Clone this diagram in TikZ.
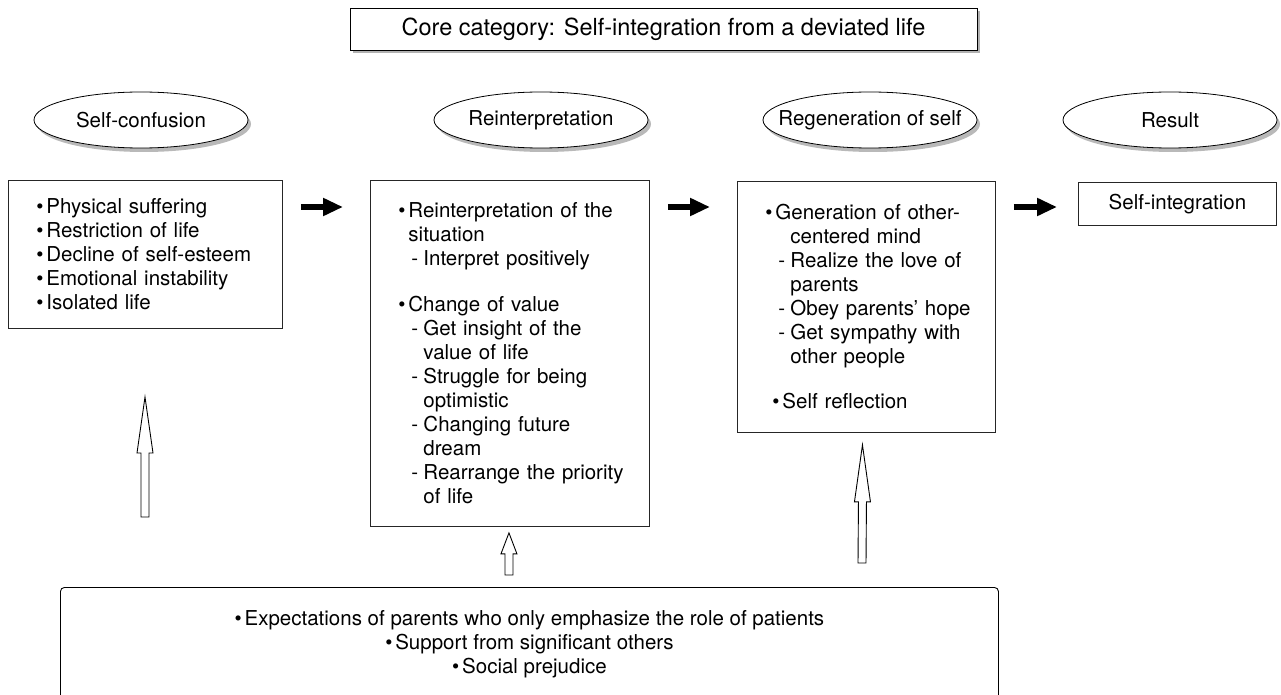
\documentclass[tikz,border=0pt]{standalone}
\usepackage{fontspec}
\setmainfont{TeX Gyre Heros}
\usetikzlibrary{shapes.geometric,arrows.meta,positioning,calc,shadows}

\newcommand{\bitem}[1]{\hspace*{28pt}\makebox[10pt][l]{\textbullet}#1}
\newcommand{\ditem}[1]{\hspace*{41pt}\makebox[12pt][l]{-}#1}
\newcommand{\citem}[1]{\hspace*{53pt}#1}
\newcommand{\hollowup}[3]{%
  \draw[hollow] ($(#1)+(-4,0)$) -- ($(#2)+(-4,#3)$) -- ($(#2)+(-8,#3)$) -- (#2)
    -- ($(#2)+(8,#3)$) -- ($(#2)+(4,#3)$) -- ($(#1)+(4,0)$) -- cycle;}

\begin{document}
\begin{tikzpicture}[x=1pt,y=-1pt]
    \tikzstyle{block} = [rectangle, draw=black!85, line width=0.9pt, anchor=north west,
               align=left, inner xsep=0pt, font=\fontsize{20.5}{24}\selectfont]
    \tikzstyle{phase} = [ellipse, draw, line width=0.8pt, fill=white, inner sep=0pt,
               minimum width=214, minimum height=56, font=\fontsize{20.5}{24}\selectfont,
               drop shadow={shadow xshift=3pt, shadow yshift=-4pt, fill=gray!55, opacity=1}]
    \tikzstyle{flow} = [line width=6pt, -{Triangle[length=20pt,width=17pt]}]
    \tikzstyle{hollow} = [draw, line width=0.9pt, fill=white]

    \useasboundingbox (0,0) rectangle (1281,695);

    % Core category
    \node[draw, line width=0.9pt, fill=white, minimum width=627, minimum height=42,
      font=\fontsize{23.5}{28}\selectfont,
      drop shadow={shadow xshift=3pt, shadow yshift=-3pt, fill=gray!60, opacity=1}]
      (core) at (663.5,29) {Core category: Self-integration from a deviated life};

    % Phases
    \node[phase] (confusionhead) at (141,120) {\makebox[0pt]{Self-confusion}};
    \node[phase] (reinterphead) at (541,120) {\makebox[0pt]{Reinterpretation}};
    \node[phase] (regenhead) at (870,120) {\makebox[0pt]{Regeneration of self}};
    \node[phase] (resulthead) at (1170,120) {\makebox[0pt]{Result}};

    % Contents
    \node[block, text width=274, minimum height=148] (confusion) at (8,180) {
      \bitem{Physical suffering}\\
      \bitem{Restriction of life}\\
      \bitem{Decline of self-esteem}\\
      \bitem{Emotional instability}\\
      \bitem{Isolated life}};

    \node[block, text width=279, minimum height=346] (reinterp) at (370,180) {
      \bitem{Reinterpretation of the}\\
      \hspace*{38pt}situation\\
      \ditem{Interpret positively}\\[22pt]
      \bitem{Change of value}\\
      \ditem{Get insight of the}\\
      \citem{value of life}\\
      \ditem{Struggle for being}\\
      \citem{optimistic}\\
      \ditem{Changing future}\\
      \citem{dream}\\
      \ditem{Rearrange the priority}\\
      \citem{of life}};

    \node[block, text width=258, minimum height=251] (regen) at (737,181) {
      \bitem{Generation of other-}\\
      \citem{centered mind}\\
      \ditem{Realize the love of}\\
      \citem{parents}\\
      \ditem{Obey parents' hope}\\
      \ditem{Get sympathy with}\\
      \citem{other people}\\[21pt]
      \hspace*{7pt}\bitem{Self reflection}};

    \node[block, align=center, text width=198, minimum height=43] (result) at (1078,182)
      {Self-integration};

    % Conditions
    \node[draw, rounded corners=4pt, line width=0.9pt, anchor=north west,
      minimum width=938, minimum height=113, align=center,
      font=\fontsize{20.5}{24}\selectfont] (context) at (60,587) {
      \makebox[10pt][l]{\textbullet}Expectations of parents who only emphasize the role of patients\\
      \makebox[10pt][l]{\textbullet}Support from significant others\\
      \makebox[10pt][l]{\textbullet}Social prejudice};

    % Flow between phases
    \draw[flow] ([xshift=18pt,yshift=-27pt]confusion.north east) -- ([xshift=-27pt,yshift=-27pt]reinterp.north west);
    \draw[flow] ([xshift=18pt,yshift=-27pt]reinterp.north east) -- ([xshift=-27pt,yshift=-26pt]regen.north west);
    \draw[flow] ([xshift=18pt,yshift=-26pt]regen.north east) -- ([xshift=-21pt,yshift=-25pt]result.north west);

    % Influence of conditions
    \coordinate (upAfoot) at (145,517);
    \coordinate (upAtip) at (145,397);
    \coordinate (upBfoot) at ($(context.north west)+(449,-12)$);
    \coordinate (upBtip) at ($(reinterp.south)+(-1,6)$);
    \coordinate (upCfoot) at (862,563);
    \coordinate (upCtip) at ($(regen.south)+(-4,12)$);

    \hollowup{upAfoot}{upAtip}{56}
    \hollowup{upBfoot}{upBtip}{21}
    \hollowup{upCfoot}{upCtip}{57}

\end{tikzpicture}
\end{document}
